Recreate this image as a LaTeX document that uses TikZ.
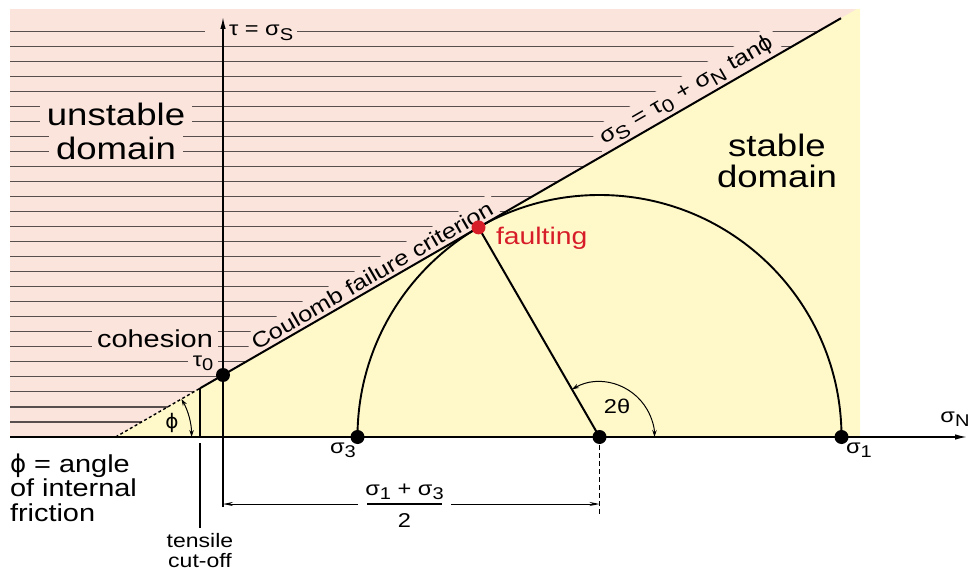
\documentclass[tikz,border=0pt]{standalone}
\usepackage{fontspec}
\usepackage{graphicx}
\setmainfont{Liberation Sans}[FakeStretch=1.18]
\newfontfamily\gk{DejaVu Sans}
\usetikzlibrary{arrows.meta}
\definecolor{pinkbg}{RGB}{250,228,220}
\definecolor{yellowbg}{RGB}{255,249,202}
\definecolor{hatchc}{RGB}{88,78,78}
\definecolor{fred}{RGB}{215,30,40}
\newcommand\sbs[1]{\raisebox{-0.4ex}{\scalebox{0.85}{#1}}}
\newcommand\fsz[1]{\fontsize{#1}{#1}\selectfont}
\begin{document}
\begin{tikzpicture}[x=1pt,y=-1pt,
  every node/.style={inner sep=0pt,outer sep=0pt},
  lab/.style={fill=pinkbg,inner xsep=5pt,inner ysep=1.5pt},
  hatchline/.style={draw=hatchc,line width=1.1pt},
  axisline/.style={line width=1.4pt,-{Latex[length=12pt,width=5.5pt]}},
  coulline/.style={line width=2pt},
  mohr/.style={line width=1.9pt},
  angarc/.style={line width=1pt,{Stealth[length=7pt,width=4.5pt]}-{Stealth[length=7pt,width=4.5pt]}},
  dimline/.style={line width=1pt,-{Stealth[length=10pt,width=4pt]}},
  dot/.style={circle,fill=black,minimum size=14pt},
  reddot/.style={circle,fill=fred,minimum size=14pt}
]
\useasboundingbox (0,0) rectangle (970,575);
% key points
\coordinate (T0) at (223,375);
\coordinate (C0) at (200,388.3);
\coordinate (CE) at (841,18.2);
\coordinate (D0) at (115.6,437);
\coordinate (TA) at (200,437);
\coordinate (TB) at (200,443);
\coordinate (TC) at (200,528);
\coordinate (XS) at (10,437);
\coordinate (XE) at (967,437);
\coordinate (YS) at (223,507);
\coordinate (YE) at (223,17);
\coordinate (M) at (599.5,437);
\coordinate (S3) at (357.5,437);
\coordinate (S1) at (841.5,437);
\coordinate (F) at (478.5,227.4);
\coordinate (MB) at (599.5,514);
\coordinate (DL) at (223,504);
\coordinate (DR) at (599.5,504);
\coordinate (GL) at (358,504);
\coordinate (GR) at (451,504);
\coordinate (BL) at (367,504);
\coordinate (BR) at (442,504);
\coordinate (A2) at (572,389.4);
\coordinate (A1) at (191.6,437);
% backgrounds
\fill[pinkbg] (10,9) rectangle (860,437);
\fill[yellowbg] (D0) -- (860,437) -- (860,9) -- (856.9,9) -- cycle;
% hatching
\foreach \k in {0,...,26}{
  \pgfmathsetmacro\yy{31.7+15.01*\k}
  \draw[hatchline] (10,\yy) -- ({223+(375-\yy)*1.7321},\yy);
}
% labels on the hatching
\node[lab,font=\fsz{31},anchor=base,inner xsep=7pt] (unst) at (116,126) {unstable};
\node[lab,font=\fsz{31},anchor=base,inner xsep=7pt] (udom) at (116,160) {domain};
\node[lab,font=\fsz{24.5},anchor=base] (coh) at (155,347) {cohesion};
\node[lab,font=\fsz{20},anchor=base] (tau0) at (203,366) {τ\sbs{0}};
\node[lab,font=\fsz{20},anchor=base west,inner xsep=4pt] (taulab) at (205,36) {\hspace*{20pt}τ = σ\sbs{S}};
\node[lab,font=\fsz{21.5},rotate=30,anchor=south,inner ysep=4pt] (coulab) at (378,{375-(378-223)*0.57735}) {Coulomb failure criterion};
\node[lab,font=\fsz{21.5},rotate=30,anchor=south,inner ysep=4pt] (eqlab) at (694,{375-(694-223)*0.57735}) {σ\sbs{S} = τ\sbs{0} + σ\sbs{N} tan{\gk ϕ}};
% Coulomb line
\draw[coulline] (C0) -- (CE);
\draw[line width=1.4pt,dashed,dash pattern=on 3pt off 2.5pt] (D0) -- (C0);
\draw[line width=1.3pt] (C0) -- (TA);
\draw[line width=1.3pt] (TB) -- (TC);
% Mohr circle
\draw[mohr] (S1) arc[start angle=0,end angle=180,radius=242pt];
\draw[coulline] (M) -- (F);
\draw[angarc] (A2) arc[start angle=120,end angle=0,radius=55pt];
\draw[angarc] (A1) arc[start angle=0,end angle=30,radius=76pt];
% axes
\draw[axisline] (XS) -- (XE);
\draw[axisline] (YS) -- (YE);
% dimension
\draw[line width=1pt,dashed,dash pattern=on 5pt off 3pt] (M) -- (MB);
\draw[dimline] (GL) -- (DL);
\draw[dimline] (GR) -- (DR);
\draw[line width=1.6pt] (BL) -- (BR);
\node[font=\fsz{20},anchor=base] (num) at (404.5,495) {σ\sbs{1} + σ\sbs{3}};
\node[font=\fsz{20},anchor=base] (den) at (404.5,527) {2};
% dots
\node[dot] (dT0) at (T0) {};
\node[dot] (dS3) at (S3) {};
\node[dot] (dM) at (M) {};
\node[dot] (dS1) at (S1) {};
\node[reddot] (dF) at (F) {};
% other labels
\node[font=\fsz{24},text=fred,anchor=base west] (fault) at (496,244) {faulting};
\node[font=\fsz{31},align=center,anchor=north] (stab) at (777,134.5) {\fontsize{31}{35}\selectfont stable\\domain};
\node[font=\fsz{20},anchor=base] (s3lab) at (343,453) {σ\sbs{3}};
\node[font=\fsz{20},anchor=base] (s1lab) at (859,453) {σ\sbs{1}};
\node[font=\fsz{20},anchor=base] (snlab) at (955,422) {σ\sbs{N}};
\node[font=\fsz{20},anchor=base] (thlab) at (617,413) {2θ};
\node[font=\fsz{20},anchor=base] (phlab) at (172,428) {\gk ϕ};
\node[font=\fsz{24.5},align=left,anchor=north west] (phidef) at (10,453.5) {\fontsize{24.5}{27}\selectfont{\gk ϕ} = angle\\of internal\\friction};
\node[font=\fsz{19.5},align=center,anchor=north] (tens) at (200,533.5) {\fontsize{19.5}{21}\selectfont tensile\\cut-off};
\end{tikzpicture}
\end{document}
